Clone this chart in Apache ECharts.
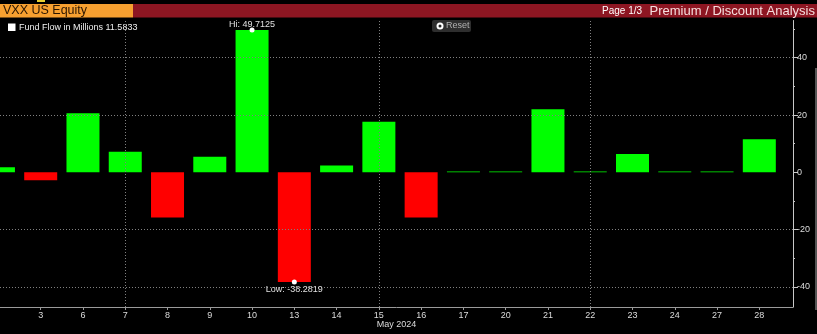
<!DOCTYPE html>
<html>
<head>
<meta charset="utf-8">
<script src="https://cdn.jsdelivr.net/npm/echarts@6/dist/echarts.min.js"></script>
<style>
html,body{margin:0;padding:0;background:#000;}
#chart{width:817px;height:334px;}
</style>
</head>
<body>
<div id="chart"></div>
<script>
// ---- data ----
const dates = ['2','3','6','7','8','9','10','13','14','15','16','17','20','21','22','23','24','27','28'];
const fundFlow = [1.75, -2.8, 20.6, 7.2, -15.8, 5.45, 49.7125, -38.2819, 2.4, 17.7, -15.8, 0.3, 0.3, 22.0, 0.3, 6.4, 0.3, 0.3, 11.5833];
const yTickLabels = [-40, -20, 0, 20, 40];
const yMinorTicks = [-40, -30, -20, -10, 0, 10, 20, 30, 40, 50];
const yGridValues = [-40, -20, 20, 40];
const weekLineDates = ['7', '15', '22'];
const xAxisTitle = 'May 2024';
const legendLabel = 'Fund Flow in Millions';
const lastValue = fundFlow[fundFlow.length - 1];

const FONT = '"Liberation Sans", Arial, sans-serif';
const idx = dates.map((d, i) => i);
const barData = fundFlow.map((v, i) => [i, v]);

const chart = echarts.init(document.getElementById('chart'), null, {renderer: 'canvas'});
const option = {
  backgroundColor: '#000',
  animation: false,
  textStyle: {fontFamily: FONT},
  grid: {left: 0, right: 24, top: 20.5, bottom: 27, containLabel: false, outerBoundsMode: 'none'},
  xAxis: {
    type: 'value', min: 0.037, max: 18.797,
    axisLine: {show: true, onZero: false, lineStyle: {color: '#9a9a9a', width: 1}},
    axisTick: {show: true, customValues: idx, length: 3, lineStyle: {color: '#9a9a9a'}},
    axisLabel: {show: true, customValues: idx, formatter: v => dates[Math.round(v)], color: '#dcdcdc', fontSize: 9, margin: 4, fontFamily: FONT},
    splitLine: {show: false},
    name: xAxisTitle, nameLocation: 'middle', nameGap: 13, nameMoveOverlap: false,
    nameTextStyle: {color: '#dcdcdc', fontSize: 9, fontFamily: FONT}
  },
  yAxis: [
    {
      type: 'value', position: 'right', min: -47, max: 53,
      axisLine: {show: true, onZero: false, lineStyle: {color: '#c8c8c8', width: 1}},
      axisTick: {show: true, customValues: yTickLabels, length: 5, lineStyle: {color: '#c8c8c8'}},
      axisLabel: {show: true, customValues: yTickLabels, color: '#dcdcdc', fontSize: 9, margin: 4, fontFamily: FONT},
      splitLine: {show: false}
    },
    {
      type: 'value', position: 'right', min: -47, max: 53,
      axisLine: {show: false, onZero: false},
      axisTick: {show: true, customValues: yMinorTicks, length: 2, lineStyle: {color: '#c8c8c8'}},
      axisLabel: {show: false},
      splitLine: {show: false}
    }
  ],
  series: [
    {
      type: 'line', data: [], z: 1, silent: true,
      markLine: {
        silent: true, symbol: 'none', label: {show: false},
        lineStyle: {type: [1, 2], color: '#808080', width: 1},
        data: yGridValues.map(v => ({yAxis: v})).concat(weekLineDates.map(d => ({xAxis: dates.indexOf(d)})))
      }
    },
    {
      type: 'bar', data: barData, barWidth: 33, z: 2, clip: true,
      itemStyle: {color: p => p.value[1] >= 0 ? '#00ff00' : '#ff0000'},
      markPoint: {
        symbol: 'circle', symbolSize: 5, silent: true,
        itemStyle: {color: '#ffffff'},
        data: [
          {type: 'max', valueDim: 'y', label: {formatter: p => 'Hi: ' + p.value, position: 'inside', offset: [0, -5]}},
          {type: 'min', valueDim: 'y', label: {formatter: p => 'Low: ' + p.value, position: 'inside', offset: [0, 7]}}
        ],
        label: {show: true, color: '#e0e0e0', fontSize: 9, fontFamily: FONT}
      }
    }
  ],
  graphic: [
    {type: 'rect', shape: {x: 0, y: 4, width: 133, height: 13.5}, style: {fill: '#f7a030'}},
    {type: 'rect', shape: {x: 133, y: 4, width: 684, height: 13.5}, style: {fill: '#8d1622'}},
    {type: 'rect', shape: {x: 37, y: 0, width: 8, height: 2}, style: {fill: '#e8d030'}},
    {type: 'text', x: 3, y: 11, style: {text: 'VXX US Equity', fill: '#2a1500', fontSize: 12.5, fontFamily: FONT, verticalAlign: 'middle'}},
    {type: 'text', x: 602, y: 11, style: {text: 'Page 1/3', fill: '#ffffff', fontSize: 10, fontFamily: FONT, verticalAlign: 'middle'}},
    {type: 'text', x: 815, y: 11, style: {text: 'Premium / Discount Analysis', fill: '#f6dede', fontSize: 13, fontFamily: FONT, verticalAlign: 'middle', align: 'right'}},
    {type: 'rect', shape: {x: 8, y: 23.5, width: 7.5, height: 7.5}, style: {fill: '#ffffff'}},
    {type: 'text', x: 19, y: 28, style: {text: legendLabel + ' ' + lastValue, fill: '#f0f0f0', fontSize: 9, fontFamily: FONT, verticalAlign: 'middle'}},
    {type: 'rect', shape: {x: 432, y: 20, width: 39, height: 12, r: 2}, style: {fill: '#2e2e2e'}},
    {type: 'circle', shape: {cx: 440, cy: 26, r: 3.5}, style: {fill: '#ffffff'}},
    {type: 'circle', shape: {cx: 440, cy: 26, r: 1.5}, style: {fill: '#222222'}},
    {type: 'text', x: 446, y: 26, style: {text: 'Reset', fill: '#b0b0b0', fontSize: 9, fontFamily: FONT, verticalAlign: 'middle'}},
    {type: 'rect', shape: {x: 815, y: 68, width: 2, height: 242}, style: {fill: '#555555'}}
  ]
};
chart.setOption(option);
</script>
</body>
</html>
